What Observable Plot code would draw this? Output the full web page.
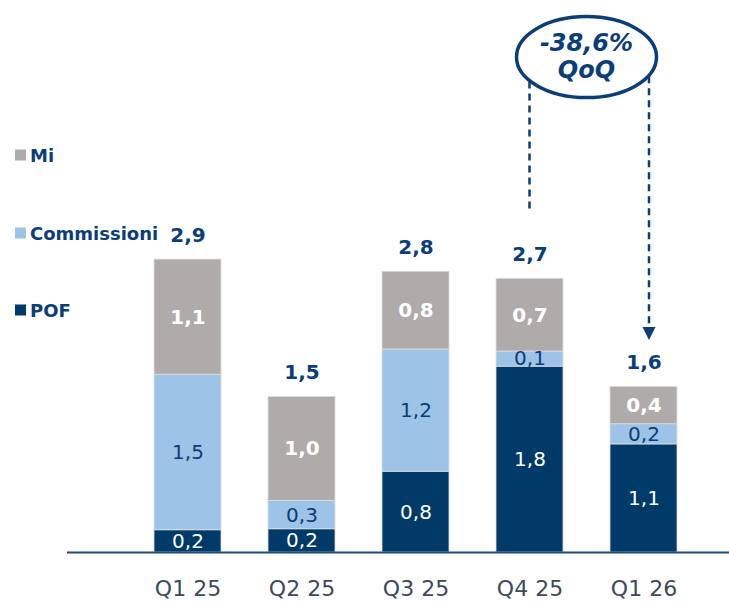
<!DOCTYPE html>
<html><head><meta charset="utf-8">
<script src="https://cdn.jsdelivr.net/npm/d3@7"></script>
<script src="https://cdn.jsdelivr.net/npm/@observablehq/plot@0.6"></script>
<style>
body{margin:0;background:#fff;font-family:"DejaVu Sans",Verdana,sans-serif}
#wrap{position:relative;width:729px;height:603px}
.leg{position:absolute;left:15px;display:flex;align-items:center;font-weight:bold;font-size:18px;color:#0B3D78;white-space:nowrap;transform:translateY(-50%)}
.leg span.sw{display:inline-block;width:11px;height:11px;margin-right:4px}
</style></head><body><div id="wrap"></div>
<script>
const quarters = ["Q1 25","Q2 25","Q3 25","Q4 25","Q1 26"];
const series = ["POF","Commissioni","Mi"];
const pof = [0.22,0.23,0.80,1.84,1.07];
const commissioni = [1.54,0.28,1.21,0.15,0.20];
const mi = [1.14,1.03,0.77,0.72,0.37];
const colors = ["#003A68","#9DC3E6","#AFABAB"];
const qoqLabel = ["-38,6%","QoQ"];
const qoqFrom = "Q4 25", qoqTo = "Q1 26";

const navy = "#0B3D78";
const fmt = v => d3.format(".1f")(v).replace(".", ",");
const valuesBySeries = [pof, commissioni, mi];

const rows = [];
const totals = [];
quarters.forEach((q, i) => {
  let acc = 0;
  series.forEach((s, j) => {
    const v = valuesBySeries[j][i];
    rows.push({q, s, v, y1: acc, y2: acc + v, mid: acc + v / 2});
    acc += v;
  });
  totals.push({q, total: acc});
});
const totalOf = q => totals.find(d => d.q === q).total;

function qoqMark(index, scales) {
  const x = scales.x, y = scales.y;
  const bw = typeof x.bandwidth === "function" ? x.bandwidth() : (x.bandwidth || 0);
  const xa = x(qoqFrom) + bw / 2, xb = x(qoqTo) + bw / 2 + 5.5;
  const cx = (x(qoqFrom) + x(qoqTo)) / 2 + bw / 2, cy = y(4.9);
  const rx = 70, ry = 40.5;
  const edge = xx => cy + ry * Math.sqrt(Math.max(0, 1 - ((xx - cx) / rx) ** 2)) + 1;
  const g = d3.create("svg:g");
  g.append("ellipse").attr("cx", cx).attr("cy", cy).attr("rx", rx).attr("ry", ry)
    .attr("fill", "white").attr("stroke", navy).attr("stroke-width", 3.5);
  g.append("text").attr("x", cx).attr("y", cy - 6).attr("text-anchor", "middle")
    .attr("font-size", 24).attr("font-weight", "bold").attr("font-style", "italic")
    .attr("fill", navy).text(qoqLabel[0]);
  g.append("text").attr("x", cx).attr("y", cy + 21).attr("text-anchor", "middle")
    .attr("font-size", 24).attr("font-weight", "bold").attr("font-style", "italic")
    .attr("fill", navy).text(qoqLabel[1]);
  g.append("line").attr("x1", xa).attr("x2", xa).attr("y1", edge(xa)).attr("y2", y(totalOf(qoqFrom) + 0.68))
    .attr("stroke", navy).attr("stroke-width", 2.5).attr("stroke-dasharray", "7,5");
  const tip = y(totalOf(qoqTo) + 0.46), base = tip - 13;
  g.append("line").attr("x1", xb).attr("x2", xb).attr("y1", edge(xb)).attr("y2", base)
    .attr("stroke", navy).attr("stroke-width", 2.5).attr("stroke-dasharray", "7,5");
  g.append("path").attr("d", `M${xb - 6.5},${base}L${xb + 6.5},${base}L${xb},${tip}Z`).attr("fill", navy);
  return g.node();
}

const plot = Plot.plot({
  width: 729, height: 603,
  marginTop: 0, marginBottom: 51, marginLeft: 67, marginRight: 0,
  style: {fontFamily: '"DejaVu Sans", Verdana, sans-serif', background: "white", overflow: "visible"},
  x: {domain: quarters, range: [118.65, 712.3], paddingInner: 0.415, paddingOuter: 0.3, label: null},
  y: {domain: [0, 5.465], axis: null},
  color: {domain: series, range: colors},
  marks: [
    Plot.barY(rows, {x: "q", y1: "y1", y2: "y2", fill: "s", stroke: "#dedede", strokeWidth: 0.8}),
    Plot.ruleY([0], {stroke: "#1F4E79", strokeWidth: 2}),
    Plot.axisX({tickSize: 0, tickPadding: 28, fontSize: 22, color: "#3E4A5C", label: null}),
    Plot.text(rows.filter(d => d.s === "POF"), {x: "q", y: "mid", text: d => fmt(d.v), fill: "white", fontSize: 20}),
    Plot.text(rows.filter(d => d.s === "Commissioni"), {x: "q", y: "mid", text: d => fmt(d.v), fill: navy, fontSize: 20}),
    Plot.text(rows.filter(d => d.s === "Mi"), {x: "q", y: "mid", text: d => fmt(d.v), fill: "white", fontWeight: "bold", fontSize: 20}),
    Plot.text(totals, {x: "q", y: "total", text: d => fmt(d.total), dy: -24, fill: navy, fontWeight: "bold", fontSize: 20}),
    qoqMark
  ]
});

const wrap = document.getElementById("wrap");
wrap.appendChild(plot);
const legendY = [310, 233, 155];
series.forEach((s, j) => {
  const el = document.createElement("div");
  el.className = "leg";
  el.style.top = legendY[j] + "px";
  el.innerHTML = `<span class="sw" style="background:${colors[j]}"></span>${s}`;
  wrap.appendChild(el);
});
</script>
</body></html>
